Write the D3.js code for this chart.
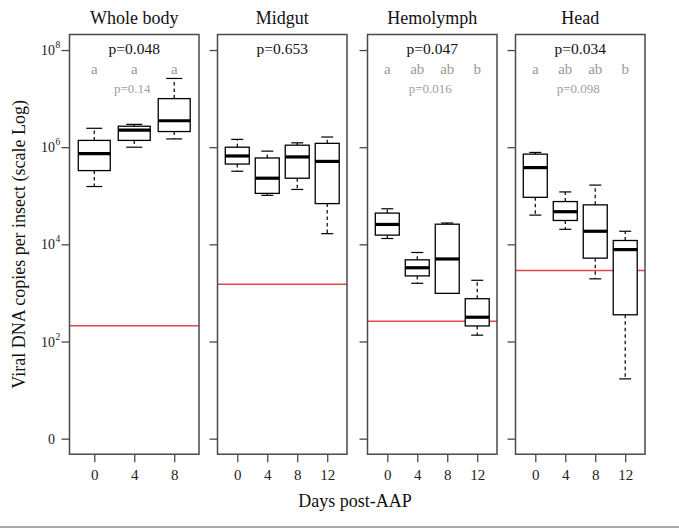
<!DOCTYPE html>
<html>
<head>
<meta charset="utf-8">
<script src="https://cdnjs.cloudflare.com/ajax/libs/d3/7.8.5/d3.min.js"></script>
<style>
  body { margin: 0; background: #fff; }
  svg text { font-family: "Liberation Serif", "DejaVu Serif", serif; }
</style>
</head>
<body>
<div id="chart"></div>
<script>
const width = 679, height = 530;

// ---- data (copies per insect) ----
const tissues = ["Whole body", "Midgut", "Hemolymph", "Head"];
const days = [[0, 4, 8], [0, 4, 8, 12], [0, 4, 8, 12], [0, 4, 8, 12]];

// each box: [min, q1, median, q3, max]
const wholeBody = [
	[1.55e5, 3.3e5, 7.4e5, 1.38e6, 2.45e6],
	[1.0e6, 1.38e6, 2.24e6, 2.7e6, 2.95e6],
	[1.48e6, 2.1e6, 3.5e6, 1.0e7, 2.6e7]
];
const midgut = [
	[3.2e5, 4.5e5, 6.6e5, 1.0e6, 1.45e6],
	[1.02e5, 1.12e5, 2.3e5, 6.0e5, 8.3e5],
	[1.35e5, 2.3e5, 6.3e5, 1.1e6, 1.23e6],
	[1.66e4, 6.9e4, 5.1e5, 1.2e6, 1.62e6]
];
const hemolymph = [
	[1.32e4, 1.55e4, 2.57e4, 4.4e4, 5.4e4],
	[1.58e3, 2.24e3, 3.3e3, 4.8e3, 6.8e3],
	[980, 980, 5.0e3, 2.6e4, 2.75e4],
	[135, 209, 316, 760, 1.82e3]
];
const head = [
	[4.0e4, 9.3e4, 3.8e5, 7.2e5, 7.8e5],
	[2.04e4, 3.1e4, 4.7e4, 7.6e4, 1.2e5],
	[1.95e3, 5.2e3, 1.86e4, 6.5e4, 1.66e5],
	[17, 355, 7.8e3, 1.2e4, 1.86e4]
];
const boxData = [wholeBody, midgut, hemolymph, head];

// detection threshold (red line)
const thresholds = [210, 1500, 260, 2900];

const pValues = ["p=0.048", "p=0.653", "p=0.047", "p=0.034"];
const groupLetters = [["a", "a", "a"], [], ["a", "ab", "ab", "b"], ["a", "ab", "ab", "b"]];
const subPValues = ["p=0.14", "", "p=0.016", "p=0.098"];

const yTicks = [1, 1e2, 1e4, 1e6, 1e8];
const yTickExp = ["", "2", "4", "6", "8"];

// ---- layout ----
const panelLeft = [69.5, 217.5, 367.5, 515.5];
const panelWidth = 129.5;
const plotTop = 34.5, plotBottom = 454.2;

const svg = d3.select("#chart")
	.append("svg")
	.attr("width", width)
	.attr("height", height);

const y = d3.scaleLog()
	.domain([Math.pow(10, -0.32), Math.pow(10, 8.32)])
	.range([plotBottom, plotTop]);

tissues.forEach(function(name, i) {
	const n = days[i].length;
	const pad = 0.04 * n;
	const x = d3.scaleLinear()
		.domain([0.5 - pad, n + 0.5 + pad])
		.range([panelLeft[i], panelLeft[i] + panelWidth]);
	const boxW = x(1.4) - x(1);

	const g = svg.append("g");

	// red threshold line
	g.append("line")
		.attr("x1", x.range()[0]).attr("x2", x.range()[1])
		.attr("y1", y(thresholds[i])).attr("y2", y(thresholds[i]))
		.attr("stroke", "#e4474b")
		.attr("stroke-width", 1.5);

	// boxes
	const boxes = g.selectAll(".box")
		.data(boxData[i])
		.enter()
		.append("g")
		.classed("box", true);

	boxes.append("line")
		.attr("x1", (d, j) => x(j + 1)).attr("x2", (d, j) => x(j + 1))
		.attr("y1", d => y(d[3])).attr("y2", d => y(d[4]))
		.attr("stroke", "#000").attr("stroke-width", 1.2)
		.attr("stroke-dasharray", "3.5,3");
	boxes.append("line")
		.attr("x1", (d, j) => x(j + 1)).attr("x2", (d, j) => x(j + 1))
		.attr("y1", d => y(d[1])).attr("y2", d => y(d[0]))
		.attr("stroke", "#000").attr("stroke-width", 1.2)
		.attr("stroke-dasharray", "3.5,3");

	[0, 4].forEach(function(k) {
		boxes.append("line")
			.attr("x1", (d, j) => x(j + 1) - boxW / 2).attr("x2", (d, j) => x(j + 1) + boxW / 2)
			.attr("y1", d => y(d[k])).attr("y2", d => y(d[k]))
			.attr("stroke", "#000").attr("stroke-width", 1.2);
	});

	boxes.append("rect")
		.attr("x", (d, j) => x(j + 1) - boxW)
		.attr("width", boxW * 2)
		.attr("y", d => y(d[3]))
		.attr("height", d => y(d[1]) - y(d[3]))
		.attr("fill", "#fff")
		.attr("stroke", "#000").attr("stroke-width", 1.3);

	boxes.append("line")
		.attr("x1", (d, j) => x(j + 1) - boxW).attr("x2", (d, j) => x(j + 1) + boxW)
		.attr("y1", d => y(d[2])).attr("y2", d => y(d[2]))
		.attr("stroke", "#000").attr("stroke-width", 3.2);

	// frame
	g.append("rect")
		.attr("x", panelLeft[i]).attr("y", plotTop)
		.attr("width", panelWidth).attr("height", plotBottom - plotTop)
		.attr("fill", "none")
		.attr("stroke", "#4a4a4a").attr("stroke-width", 1.5);

	// x axis
	const xAxis = g.append("g")
		.attr("transform", `translate(0,${plotBottom})`)
		.call(d3.axisBottom(x)
			.tickValues(d3.range(1, n + 1))
			.tickFormat((d) => days[i][d - 1])
			.tickSize(8));
	xAxis.select(".domain").remove();
	xAxis.selectAll("line").attr("stroke", "#4a4a4a").attr("stroke-width", 1.3);
	xAxis.selectAll("text")
		.attr("y", 15).attr("dy", "0.71em")
		.attr("font-size", 15).attr("fill", "#222")
		.style("font-family", "Liberation Serif, serif");

	// y axis ticks
	const yAxis = g.append("g")
		.attr("transform", `translate(${panelLeft[i]},0)`)
		.call(d3.axisLeft(y).tickValues(yTicks).tickFormat("").tickSize(8));
	yAxis.select(".domain").remove();
	yAxis.selectAll("line").attr("stroke", "#4a4a4a").attr("stroke-width", 1.3);

	// title
	g.append("text")
		.attr("x", panelLeft[i] + panelWidth / 2)
		.attr("y", 24)
		.attr("text-anchor", "middle")
		.attr("font-size", 18)
		.attr("fill", "#111")
		.text(name);

	// p-value
	g.append("text")
		.attr("x", panelLeft[i] + panelWidth / 2)
		.attr("y", 54)
		.attr("text-anchor", "middle")
		.attr("font-size", 15.5)
		.attr("fill", "#111")
		.text(pValues[i]);

	g.selectAll(".letter")
		.data(groupLetters[i])
		.enter()
		.append("text")
		.attr("x", (d, j) => x(j + 1))
		.attr("y", 74)
		.attr("text-anchor", "middle")
		.attr("font-size", 15)
		.attr("fill", "#9a9a9a")
		.text(d => d);

	if (subPValues[i]) {
		g.append("text")
			.attr("x", panelLeft[i] + panelWidth / 2 - 2)
			.attr("y", 92.5)
			.attr("text-anchor", "middle")
			.attr("font-size", 13)
			.attr("fill", "#a0a0a0")
			.text(subPValues[i]);
	}
});

// y tick labels (first panel)
const yLabels = svg.append("g");
yTicks.forEach(function(t, k) {
	const lab = yLabels.append("text")
		.attr("x", 55)
		.attr("y", y(t) + 5)
		.attr("text-anchor", "end")
		.attr("font-size", 14)
		.attr("fill", "#222");
	if (k === 0) {
		lab.text("0");
	} else {
		lab.text("10");
		yLabels.append("text")
			.attr("x", 55.5)
			.attr("y", y(t) - 2)
			.attr("font-size", 9.5)
			.attr("fill", "#222")
			.text(yTickExp[k]);
	}
});

// axis titles
svg.append("text")
	.attr("transform", `translate(25,${(plotTop + plotBottom) / 2}) rotate(-90)`)
	.attr("text-anchor", "middle")
	.attr("font-size", 18)
	.attr("fill", "#111")
	.text("Viral DNA copies per insect (scale Log)");

svg.append("text")
	.attr("x", 355)
	.attr("y", 507)
	.attr("text-anchor", "middle")
	.attr("font-size", 18)
	.attr("fill", "#111")
	.text("Days post-AAP");

// bottom rule
svg.append("line")
	.attr("x1", 0).attr("x2", width)
	.attr("y1", 527).attr("y2", 527)
	.attr("stroke", "#a8a8a8")
	.attr("stroke-width", 2);
</script>
</body>
</html>
